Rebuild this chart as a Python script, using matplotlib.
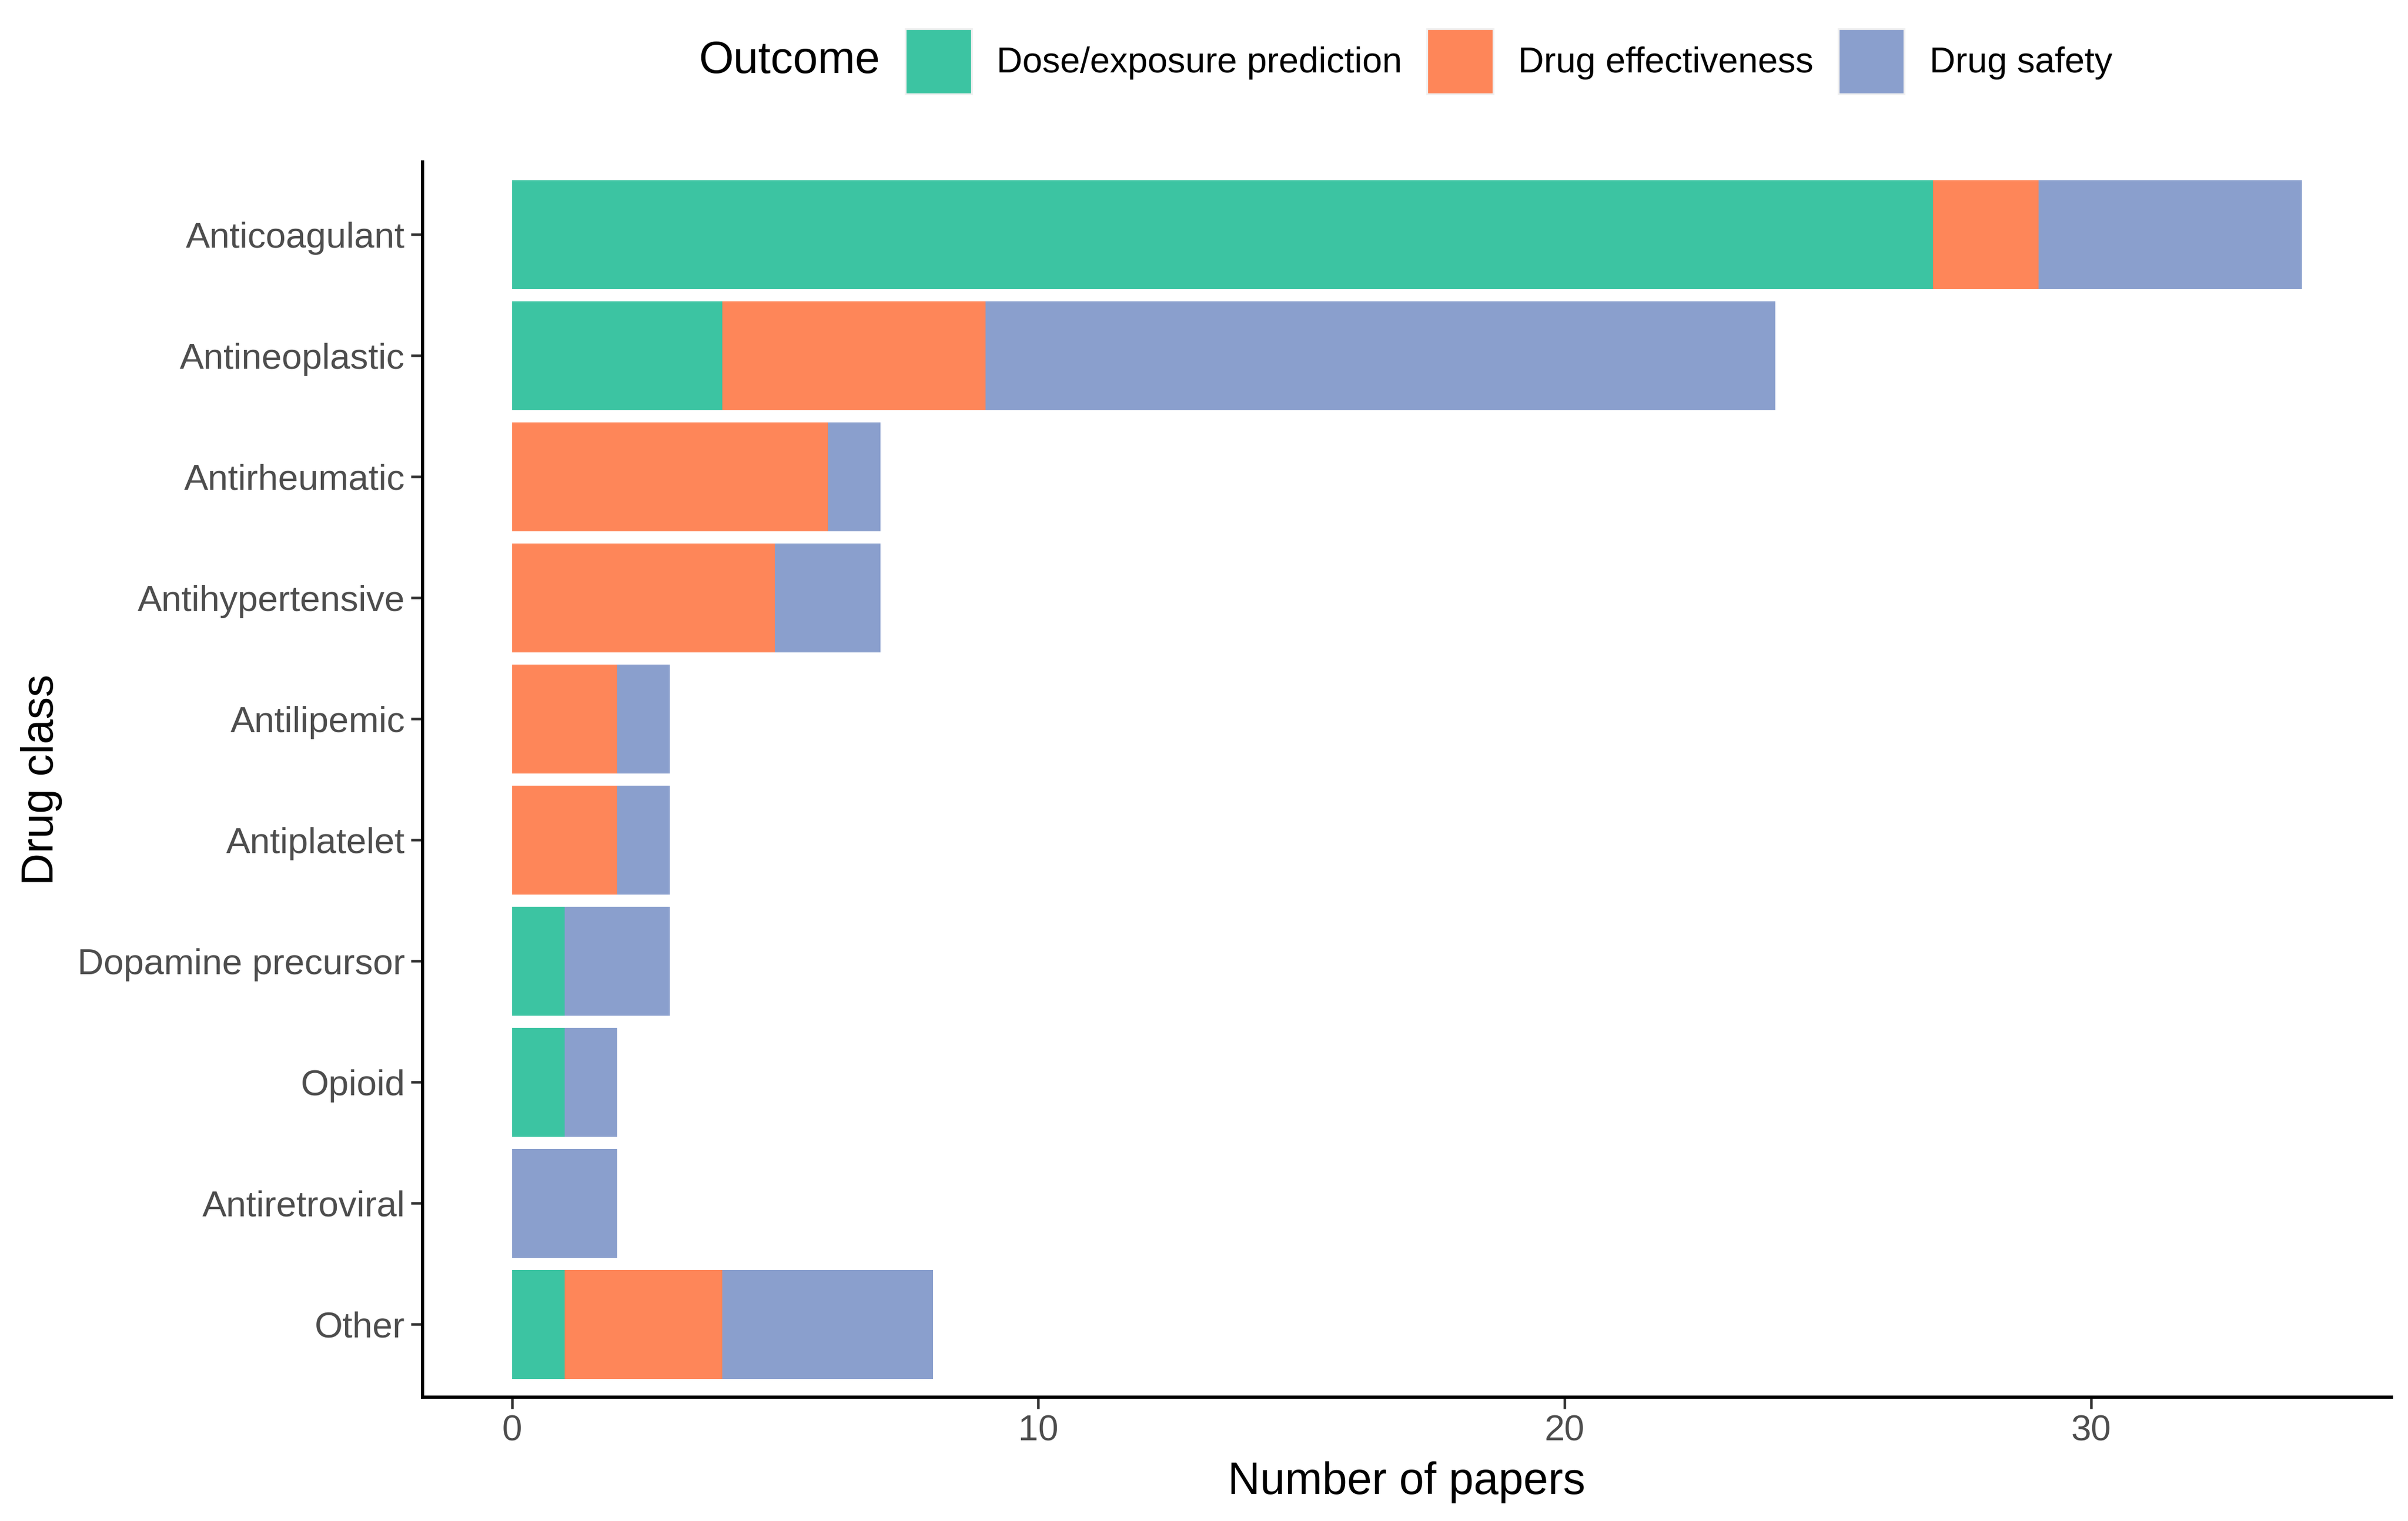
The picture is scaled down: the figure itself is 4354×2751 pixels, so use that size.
#! /usr/bin/python3
#coding: utf-8
import numpy as np
from matplotlib import pyplot as plt
from matplotlib.patches import Patch

plt.rcParams['font.family'] = ['Liberation Sans', 'DejaVu Sans']

drug_classes = ["Anticoagulant", "Antineoplastic", "Antirheumatic", "Antihypertensive",
	"Antilipemic", "Antiplatelet", "Dopamine precursor", "Opioid", "Antiretroviral", "Other"]
outcomes = ["Dose/exposure prediction", "Drug effectiveness", "Drug safety"]
dose_exposure = [27, 4, 0, 0, 0, 0, 1, 1, 0, 1]
effectiveness = [2, 5, 6, 5, 2, 2, 0, 0, 0, 3]
safety = [5, 15, 1, 2, 1, 1, 2, 1, 2, 4]
xticks = [0, 10, 20, 30]

colors = ["#3cc4a2", "#fe8659", "#8a9fcd"]

fig = plt.figure(figsize=(4354 / 300, 2751 / 300), dpi=300)
ax = fig.add_axes([0.1754, 0.0815, 0.993 - 0.1754, 0.8935 - 0.0815])

pos = np.arange(len(drug_classes))
left = np.zeros(len(drug_classes))
for values, color in zip([dose_exposure, effectiveness, safety], colors):
	values = np.array(values, dtype=float)
	ax.barh(pos, values, left=left, height=0.9, color=color, linewidth=0)
	left = left + values

total_max = left.max()
ax.set_xlim(-0.05 * total_max, total_max * 1.05)
ax.set_ylim(len(drug_classes) - 0.4, -0.6)
ax.set_yticks(pos)
ax.set_yticklabels(drug_classes)
ax.set_xticks(xticks)

for side in ["top", "right"]:
	ax.spines[side].set_visible(False)
for side in ["left", "bottom"]:
	ax.spines[side].set_linewidth(1.4)
	ax.spines[side].set_color("black")

ax.tick_params(axis="both", length=5, width=1.1, color="#333333",
	labelsize=15.7, labelcolor="#4d4d4d", pad=2.5)

ax.set_xlabel("Number of papers", fontsize=19.4, color="black")
ax.set_ylabel("Drug class", fontsize=19.4, color="black")
ax.xaxis.label.set_va("center")
ax.yaxis.label.set_va("center")
ax.xaxis.set_label_coords(0.5, -0.069)
ax.yaxis.set_label_coords(-0.1934, 0.5)

# legend on top, title on the left like ggplot
fig.text(0.290, 0.9596, "Outcome", fontsize=19.4, ha="left", va="center")
handles = [Patch(facecolor=c, edgecolor="#f0f0f0", linewidth=0.8) for c in colors]
fig.legend(handles, outcomes, loc="center left", bbox_to_anchor=(0.376, 0.9596),
	ncol=3, frameon=False, fontsize=15.5, handlelength=1.85, handleheight=2.45,
	handletextpad=0.7, columnspacing=0.7, borderpad=0, borderaxespad=0)

fig.savefig("out.png", dpi=300, facecolor="white")
